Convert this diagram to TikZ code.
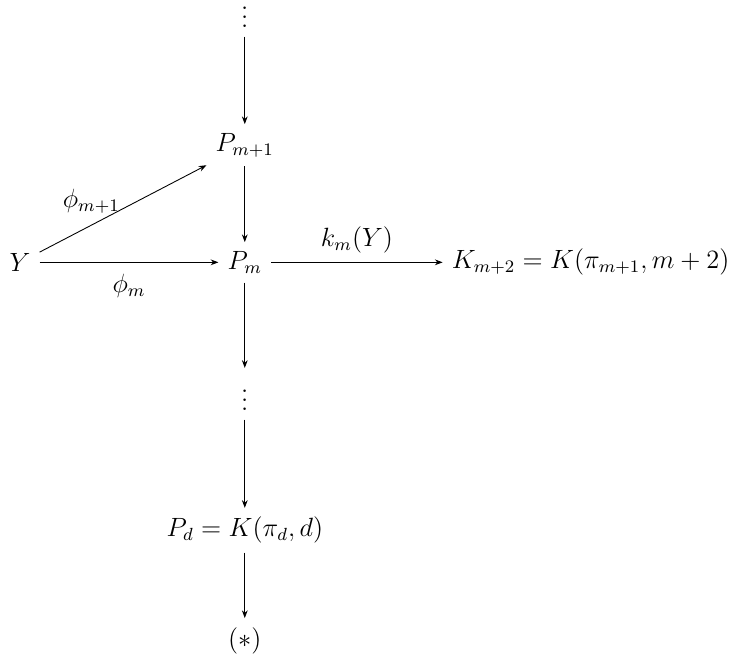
\documentclass[tikz,border=0pt,12pt]{standalone}
\usepackage{amsmath}
\usetikzlibrary{arrows.meta,positioning}

\begin{document}
\begin{tikzpicture}[>={Stealth[length=3.5pt]}]
\useasboundingbox (-3.91,-6.39) rectangle (7.99,4.19);
\node (Pm) at (0,0) {$P_m$};
\node (Pmone) at (0,1.87) {$P_{m+1}$};
\node (topdots) at (0,4.02) {$\vdots$};
\node (Y) at (-3.59,0) {$Y$};
\node[anchor=west] (Kmtwo) at (3.16,0) {$K_{m+2}=K(\pi_{m+1},m+2)$};
\node (middots) at (0,-2.1) {$\vdots$};
\node (Pd) at (0,-4.28) {$P_d=K(\pi_d,d)$};
\node (star) at (0,-6.04) {$(*)$};
\draw[->] (topdots)--(Pmone);
\draw[->] (Pmone)--(Pm);
\draw[->] (Pm)--(middots);
\draw[->] (middots)--(Pd);
\draw[->] (Pd)--(star);
\draw[->] (Y)--node[below=1pt] {$\phi_m$} (Pm);
\draw[->] (Y)--node[pos=0.31,above=1pt] {$\phi_{m+1}$} (Pmone);
\draw[->] (Pm)--node[above] {$k_m(Y)$} (Kmtwo);
\end{tikzpicture}
\end{document}
